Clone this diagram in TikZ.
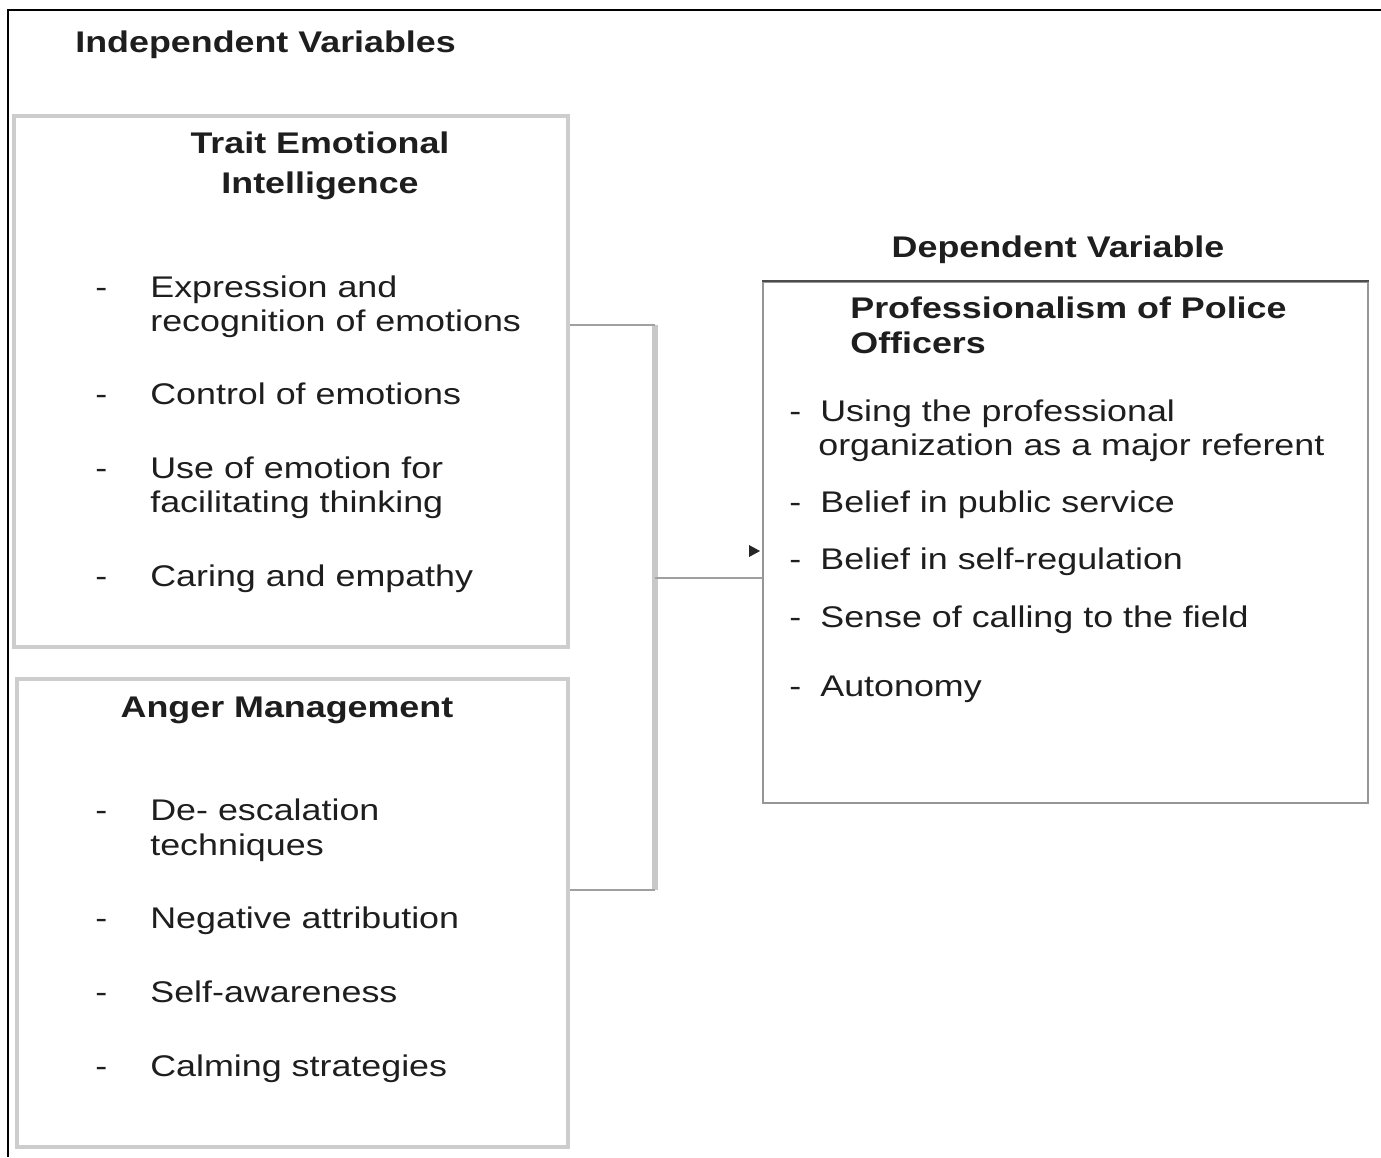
\documentclass[tikz,border=0pt]{standalone}
\usepackage{fontspec}
\setmainfont{Liberation Sans}[FakeStretch=1.2]
\definecolor{inkgray}{RGB}{30,30,30}
\definecolor{boxgray}{RGB}{205,205,205}
\definecolor{busgray}{RGB}{200,200,200}
\definecolor{linkgray}{RGB}{160,160,160}
\definecolor{depgray}{RGB}{150,150,150}
\usetikzlibrary{calc}

\begin{document}
\begin{tikzpicture}[
  x=0.02cm, y=-0.02cm,
  txt/.style={inner sep=0, text=inkgray, font=\fontsize{17}{20}\selectfont, anchor=base west},
  head/.style={txt, font=\fontsize{17}{20}\selectfont\bfseries},
  ivbox/.style={draw=boxgray, line width=0.07cm, inner sep=0},
  dvbox/.style={draw=depgray, line width=0.04cm, inner sep=0},
  bus/.style={draw=busgray, line width=0.12cm},
  link/.style={draw=linkgray, line width=0.04cm}
]
\useasboundingbox (0,0) rectangle (1381,1157);
\draw[line width=0.04cm] (8,1157) -- (8,10) -- (1381,10);

% boxes
\node[ivbox, minimum width=11.08cm, minimum height=10.62cm] (tei) at (291,381.5) {};
\node[ivbox, minimum width=11.02cm, minimum height=9.36cm] (anger) at (292.5,913) {};
\node[dvbox, minimum width=12.1cm, minimum height=10.42cm] (prof) at (1065.5,542.5) {};
\draw[line width=0.04cm, draw=black!70] (prof.north west) -- (prof.north east);

% headings
\node[head] (ivtitle) at (75,52) {Independent Variables};
\node[head, anchor=base] (dvtitle) at (1058,257) {Dependent Variable};
\node[head, anchor=base] (teititle1) at (320,153) {Trait Emotional};
\node[head, anchor=base] (teititle2) at (320,193) {Intelligence};
\node[head, anchor=base] (angertitle) at (287,717) {Anger Management};
\node[head] (proftitle1) at (850,318) {Professionalism of Police};
\node[head] (proftitle2) at (850,353) {Officers};

% trait EI items
\foreach \yy in {297,404,478,586} \node[txt] at (95,\yy) {-};
\node[txt] (tei1a) at (150,297) {Expression and};
\node[txt] (tei1b) at (150,331) {recognition of emotions};
\node[txt] (tei2) at (150,404) {Control of emotions};
\node[txt] (tei3a) at (150,478) {Use of emotion for};
\node[txt] (tei3b) at (150,512) {facilitating thinking};
\node[txt] (tei4) at (150,586) {Caring and empathy};

% anger items
\foreach \yy in {820,928,1002,1076} \node[txt] at (95,\yy) {-};
\node[txt] (ang1a) at (150,820) {De- escalation};
\node[txt] (ang1b) at (150,855) {techniques};
\node[txt] (ang2) at (150,928) {Negative attribution};
\node[txt] (ang3) at (150,1002) {Self-awareness};
\node[txt] (ang4) at (150,1076) {Calming strategies};

% professionalism items
\foreach \yy in {421,512,569,627,696} \node[txt] at (789,\yy) {-};
\node[txt] (pro1a) at (820,421) {Using the professional};
\node[txt] (pro1b) at (818,455) {organization as a major referent};
\node[txt] (pro2) at (820,512) {Belief in public service};
\node[txt] (pro3) at (820,569) {Belief in self-regulation};
\node[txt] (pro4) at (820,627) {Sense of calling to the field};
\node[txt] (pro5) at (820,696) {Autonomy};

% connectors
\coordinate (busa) at (655,325);
\coordinate (busb) at (655,890);
\coordinate (join) at (655,578);
\coordinate (tip) at (760,551);
\draw[bus] (busa) -- (busb);
\draw[link] (tei.east |- busa) -- (busa);
\draw[link] (anger.east |- busb) -- (busb);
\draw[link] (join) -- (prof.west |- join);
\fill[black!85] (tip) -- ++(-11,-6) -- ++(0,12) -- cycle;
\end{tikzpicture}
\end{document}
